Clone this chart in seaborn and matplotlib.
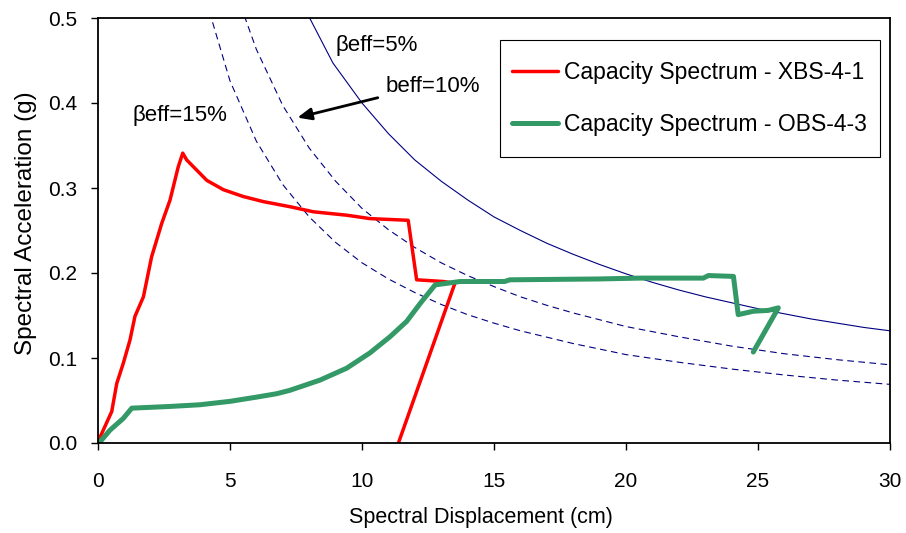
import numpy as np
import pandas as pd
import matplotlib
matplotlib.use("Agg")
import matplotlib.pyplot as plt
from matplotlib.ticker import FormatStrFormatter
from matplotlib.patches import Rectangle
import seaborn as sns

# Capacity spectrum XBS-4-1 (red)
xbs_sd = [0.0, 0.08, 0.52, 0.71, 0.96, 1.21, 1.40, 1.72, 2.03, 2.41, 2.73, 3.04, 3.21, 3.36,
          4.12, 4.75, 5.50, 6.26, 7.27, 8.16, 9.42, 10.30, 11.75, 12.07, 13.08, 13.52, 11.38]
xbs_sa = [0.0, 0.007, 0.037, 0.070, 0.094, 0.121, 0.149, 0.172, 0.219, 0.258, 0.286, 0.325, 0.341, 0.333,
          0.309, 0.298, 0.290, 0.284, 0.278, 0.272, 0.268, 0.264, 0.262, 0.192, 0.190, 0.188, 0.0]

# Capacity spectrum OBS-4-3 (green)
obs_sd = [0.0, 0.08, 0.45, 0.96, 1.28, 2.73, 3.86, 5.00, 6.01, 6.77, 7.27, 8.41, 9.42, 10.30, 11.06,
          11.69, 12.20, 12.77, 13.71, 15.40, 15.60, 19.00, 20.53, 22.93, 23.12, 24.07, 24.25, 24.82,
          25.39, 25.77, 24.82]
obs_sa = [0.0, 0.0015, 0.015, 0.029, 0.041, 0.043, 0.045, 0.049, 0.054, 0.058, 0.062, 0.074, 0.088, 0.106, 0.125,
          0.143, 0.164, 0.186, 0.190, 0.190, 0.192, 0.193, 0.194, 0.194, 0.197, 0.196, 0.151, 0.155,
          0.156, 0.159, 0.107]

# Demand spectra
d5_sd = [7.8, 8.9, 10, 11, 12, 13, 14, 15, 16, 17, 18, 19, 20, 21, 22, 23, 24, 25, 26, 27, 28, 29, 30]
d5_sa = [0.513, 0.447, 0.400, 0.364, 0.333, 0.308, 0.286, 0.266, 0.250, 0.235, 0.222, 0.210, 0.199,
         0.189, 0.180, 0.172, 0.165, 0.158, 0.152, 0.146, 0.141, 0.136, 0.132]
d10_sd = [5.4, 6, 7, 8, 9, 10, 11, 12, 13, 14, 15, 16, 17, 18, 19, 20, 22, 24, 26, 28, 30]
d10_sa = [0.515, 0.463, 0.397, 0.347, 0.308, 0.276, 0.251, 0.230, 0.212, 0.197, 0.184, 0.172, 0.162,
          0.153, 0.145, 0.137, 0.125, 0.114, 0.105, 0.098, 0.092]
d15_sd = [4.1, 5, 6, 7, 8, 9, 10, 11, 12, 13, 14, 15, 16, 18, 20, 22, 24, 26, 28, 30]
d15_sa = [0.520, 0.426, 0.355, 0.304, 0.266, 0.236, 0.212, 0.193, 0.177, 0.163, 0.151, 0.141, 0.132,
          0.117, 0.104, 0.095, 0.087, 0.080, 0.074, 0.069]

x_ticks = [0, 5, 10, 15, 20, 25, 30]
y_ticks = [0.0, 0.1, 0.2, 0.3, 0.4, 0.5]

sns.set_theme(style="white")
plt.rcParams['font.family'] = ['Liberation Sans', 'DejaVu Sans']
plt.rcParams['text.color'] = 'black'

W, H = 906, 533
fig = plt.figure(figsize=(9.06, 5.33), dpi=100)
ax = fig.add_axes([98/W, 1-443/H, (890-98)/W, (443-18)/H])

navy = "#000080"
sns.lineplot(x=d5_sd, y=d5_sa, ax=ax, color=navy, lw=0.8, sort=False, estimator=None)
l10 = sns.lineplot(x=d10_sd, y=d10_sa, ax=ax, color=navy, lw=0.8, sort=False, estimator=None).lines[-1]
l10.set_dashes([6, 4])
l15 = sns.lineplot(x=d15_sd, y=d15_sa, ax=ax, color=navy, lw=0.8, sort=False, estimator=None).lines[-1]
l15.set_dashes([6, 4])

sns.lineplot(x=xbs_sd, y=xbs_sa, ax=ax, color="#FF0000", lw=2.5, sort=False, estimator=None,
             label="Capacity Spectrum - XBS-4-1")
sns.lineplot(x=obs_sd, y=obs_sa, ax=ax, color="#339966", lw=3.6, sort=False, estimator=None,
             label="Capacity Spectrum - OBS-4-3")

ax.set_xlim(0, 30)
ax.set_ylim(0, 0.5)
ax.set_xticks(x_ticks)
ax.set_yticks(y_ticks)
ax.yaxis.set_major_formatter(FormatStrFormatter('%.1f'))
ax.tick_params(axis='both', direction='out', length=5, width=1, color='black',
               labelsize=15, labelcolor='black', bottom=True, left=True)
ax.tick_params(axis='x', pad=16)
ax.tick_params(axis='y', pad=10)
for s in ax.spines.values():
    s.set_color('black')
    s.set_linewidth(1.3)

ax.set_xlabel("Spectral Displacement (cm)", fontsize=15.5, color='black')
ax.xaxis.set_label_coords((481-98)/792, -(507-443)/425)
ax.set_ylabel("Spectral Acceleration (g)", fontsize=17.5, color='black')
ax.yaxis.set_label_coords(-(98-37)/792, (443-223)/425)

ax.text(9.0, 0.468, "βeff=5%", fontsize=16, va='center', ha='left', color='black')
ax.text(10.9, 0.419, "beff=10%", fontsize=16, va='center', ha='left', color='black')
ax.text(1.3, 0.385, "βeff=15%", fontsize=16, va='center', ha='left', color='black')
ax.annotate("", xy=(7.45, 0.382), xytext=(10.7, 0.407),
            arrowprops=dict(arrowstyle="-|>,head_length=0.7,head_width=0.3", color='black', lw=2))

# legend box
ax.add_patch(Rectangle((500/W, 1-157/H), 380/W, 117/H, transform=fig.transFigure, clip_on=False,
                       fill=True, facecolor='white', edgecolor='black', lw=0.8, zorder=4))
leg = ax.legend(loc='center left', bbox_to_anchor=(512/W, 1-98.5/H), bbox_transform=fig.transFigure,
                fontsize=16.5, frameon=False, handlelength=2.0, labelspacing=1.3,
                borderpad=0, handletextpad=0.25, borderaxespad=0, labelcolor='black')
leg.set_zorder(6)

fig.savefig("out.png", dpi=100)
